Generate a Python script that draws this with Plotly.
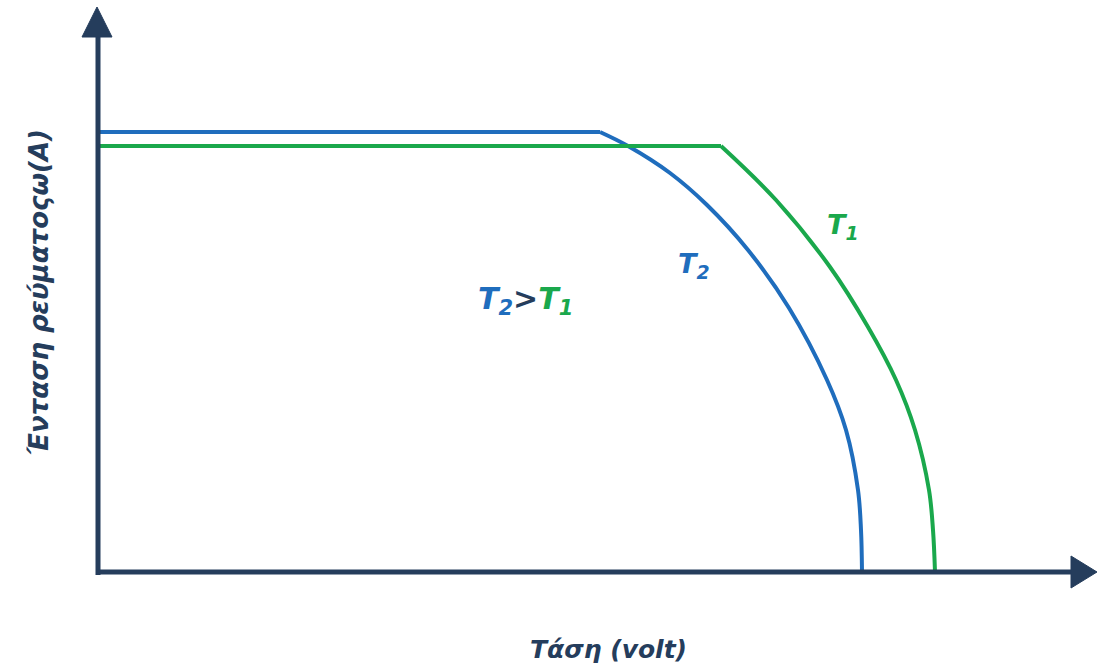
import plotly.graph_objects as go

# I-V characteristics of a solar cell at two temperatures (arbitrary units)
v_t2 = [0.0, 50.2, 53.0, 57.2, 60.9, 65.0, 69.1, 72.9, 74.8, 76.0, 76.3, 76.4]
i_t2 = [44.0, 44.0, 42.6, 39.9, 36.7, 32.2, 26.4, 19.2, 14.2, 8.2, 4.2, 0.0]

v_t1 = [0.0, 62.3, 67.8, 73.2, 77.0, 79.8, 81.7, 83.1, 83.5, 83.7]
i_t1 = [42.6, 42.6, 37.2, 30.5, 24.5, 19.2, 14.2, 8.2, 4.2, 0.0]

BLUE = "#1f6dbd"
GREEN = "#1aa84c"
NAVY = "#253d5c"
FONT = "DejaVu Sans"

fig = go.Figure()


def add_curve(v, i, color):
    # flat (short-circuit) part drawn straight, knee part smoothed
    fig.add_trace(go.Scatter(x=v[:2], y=i[:2], mode="lines",
                             line=dict(color=color, width=4), hoverinfo="skip"))
    fig.add_trace(go.Scatter(x=v[1:], y=i[1:], mode="lines",
                             line=dict(color=color, width=4, shape="spline", smoothing=1.0),
                             hoverinfo="skip"))


add_curve(v_t2, i_t2, BLUE)
add_curve(v_t1, i_t1, GREEN)

# axes drawn as arrows
fig.add_shape(type="line", x0=0, y0=-0.3, x1=0, y1=54, line=dict(color=NAVY, width=5))
fig.add_shape(type="line", x0=-0.2, y0=0, x1=97.5, y1=0, line=dict(color=NAVY, width=5))
fig.add_shape(type="path", path="M -1.6 53.5 L 1.4 53.5 L -0.1 56.5 Z",
              fillcolor=NAVY, line=dict(color=NAVY, width=1))
fig.add_shape(type="path", path="M 97.3 1.6 L 97.3 -1.6 L 99.9 0 Z",
              fillcolor=NAVY, line=dict(color=NAVY, width=1))

fig.add_annotation(x=51.0, y=-7.7, text="<b><i>Τάση (volt)</i></b>", showarrow=False,
                   font=dict(family=FONT, size=25, color=NAVY))
fig.add_annotation(x=-5.9, y=28.0, text="<b><i>Ένταση ρεύματοςω(A)</i></b>", showarrow=False,
                   textangle=-90, font=dict(family=FONT, size=26, color=NAVY))
fig.add_annotation(x=59.6, y=30.7, text="<b><i>T<sub>2</sub></i></b>", showarrow=False,
                   font=dict(family=FONT, size=27, color=BLUE))
fig.add_annotation(x=74.5, y=34.6, text="<b><i>T<sub>1</sub></i></b>", showarrow=False,
                   font=dict(family=FONT, size=27, color=GREEN))
fig.add_annotation(x=42.7, y=27.2,
                   text=("<b><i><span style='color:%s'>T<sub>2</sub></span>"
                         "<span style='color:%s'>&gt;</span>"
                         "<span style='color:%s'>T<sub>1</sub></span></i></b>") % (BLUE, NAVY, GREEN),
                   showarrow=False, font=dict(family=FONT, size=30, color=NAVY))

fig.update_layout(
    width=1097, height=666,
    margin=dict(l=0, r=0, t=0, b=0),
    paper_bgcolor="white", plot_bgcolor="white",
    showlegend=False,
    xaxis=dict(range=[-9.8, 99.9], visible=False, fixedrange=True),
    yaxis=dict(range=[-9.4, 57.2], visible=False, fixedrange=True),
)

fig.write_html("out.html")
